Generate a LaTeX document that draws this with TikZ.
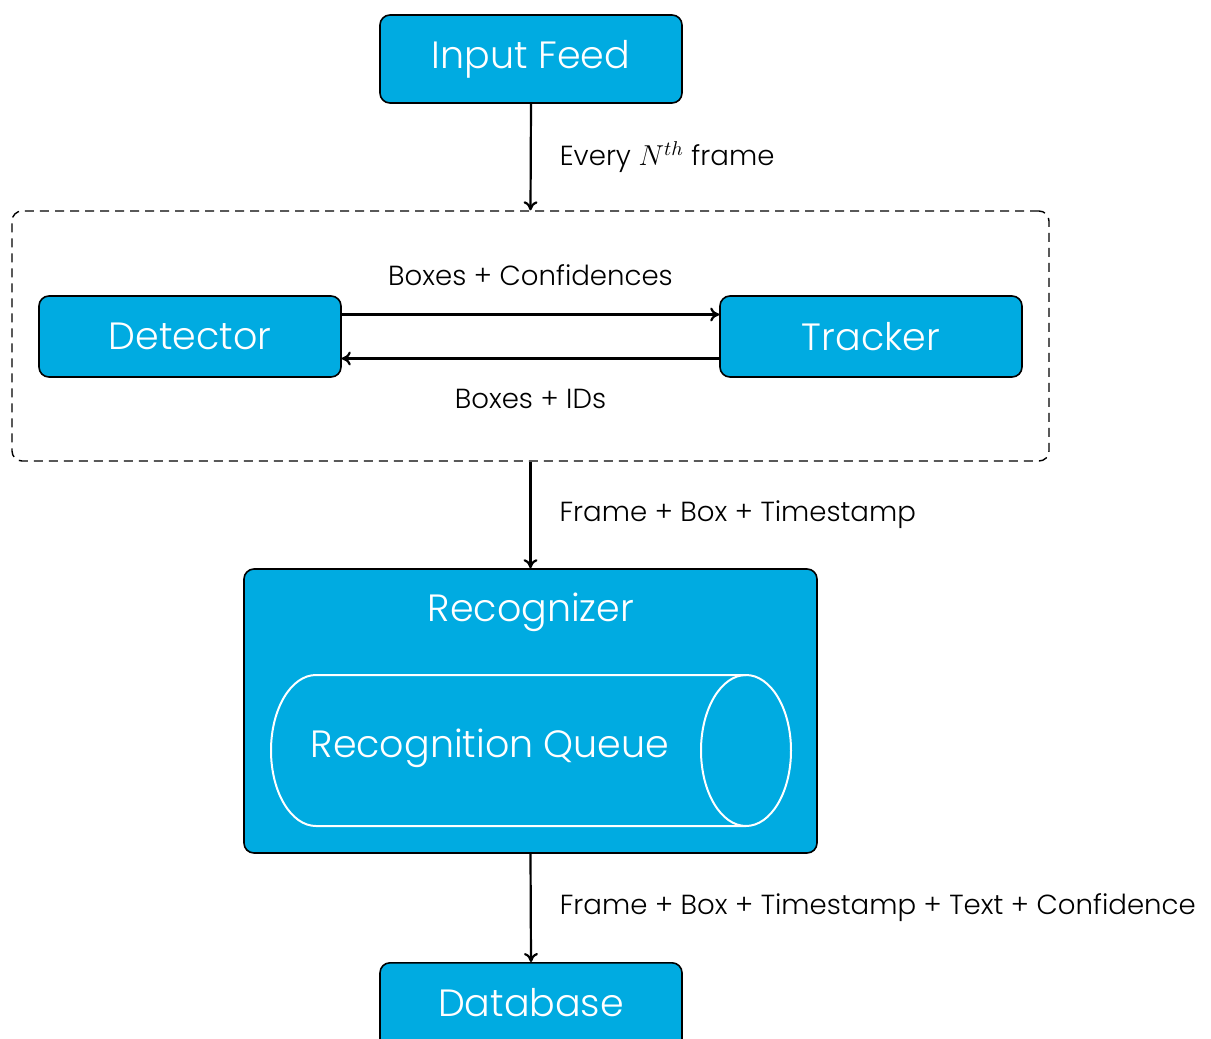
\documentclass[tikz,border=0pt]{standalone}
\usepackage{fontspec}
\setmainfont{Poppins}[UprightFont=* Light]
\usetikzlibrary{arrows.meta}
\definecolor{boxblue}{RGB}{0,171,225}
\tikzset{
  bluebox/.style={draw=black, fill=boxblue, rounded corners=5pt, line width=0.8pt,
    inner sep=0pt, text=white, font=\fontsize{19}{23}\selectfont},
  groupbox/.style={draw=black, dashed, dash pattern=on 4.5pt off 3pt, rounded corners=5pt,
    line width=0.7pt, inner sep=0pt},
  arr/.style={-{To[length=4.5pt,width=7pt]}, line width=1.1pt},
  lbl/.style={inner sep=0pt, font=\fontsize{13.8}{16}\selectfont},
  bigtext/.style={inner sep=0pt, text=white, font=\fontsize{19}{23}\selectfont},
  queueline/.style={draw=white, line width=1pt}
}
\begin{document}
\begin{tikzpicture}[x=0.5pt,y=-0.5pt]
\useasboundingbox (0,0) rectangle (1211,1039);

\node[bluebox, minimum width=151pt, minimum height=44pt] (input) at (531,59) {Input Feed};
\node[groupbox, minimum width=518.5pt, minimum height=125pt] (group) at (530.5,336) {};
\node[bluebox, minimum width=151pt, minimum height=40.5pt] (det) at (190,336.5) {Detector};
\node[bluebox, minimum width=151pt, minimum height=40.5pt] (trk) at (871,336.5) {Tracker};
\node[bluebox, minimum width=286.5pt, minimum height=142pt] (rec) at (530.5,711) {};
\node[bigtext] (rectitle) at (531,612) {Recognizer};
\node[bluebox, minimum width=151pt, minimum height=44pt, text depth=0pt, anchor=north] (db) at (531,962) {};
\node[bigtext] (dbtext) at (531,1003) {Database};

% recognition queue cylinder
\coordinate (qtop) at (746,675);
\coordinate (qcap) at (746,750.5);
\draw[queueline] (qtop) -- (316,675) arc[start angle=270, end angle=90, x radius=45, y radius=75.5] -- (746,826);
\draw[queueline] (qcap) ellipse [x radius=45, y radius=75.5];
\node[bigtext] (queue) at (490,748) {Recognition Queue};

% connectors
\draw[arr] (input.south) -- (group.north)
  node[lbl, midway, anchor=west, xshift=14pt] {Every $N^{th}$ frame};
\draw[arr] ([yshift=11pt]det.east) -- ([yshift=11pt]trk.west)
  node[lbl, midway, yshift=19.5pt] {Boxes + Confidences};
\draw[arr] ([yshift=-11pt]trk.west) -- ([yshift=-11pt]det.east)
  node[lbl, midway, yshift=-20pt] {Boxes + IDs};
\draw[arr] (group.south) -- (rec.north)
  node[lbl, midway, anchor=west, xshift=14pt] {Frame + Box + Timestamp};
\draw[arr] (rec.south) -- (db.north)
  node[lbl, midway, anchor=west, xshift=14pt] {Frame + Box + Timestamp + Text + Confidence};
\end{tikzpicture}
\end{document}
